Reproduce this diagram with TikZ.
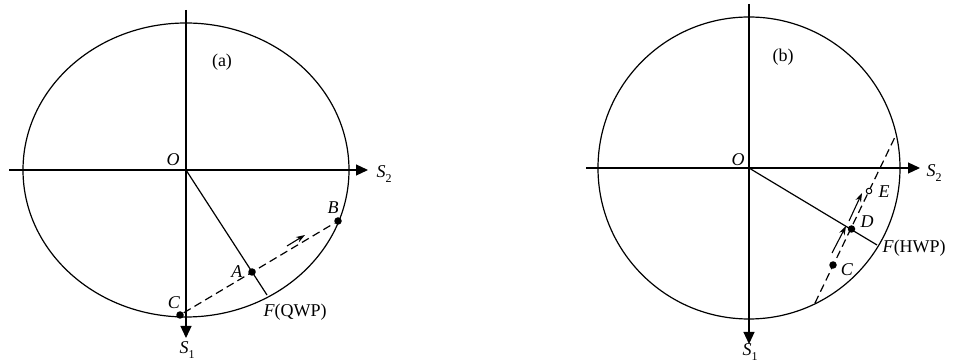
\documentclass[tikz,border=0pt]{standalone}
\usepackage{fontspec}
\setmainfont{Liberation Serif}
\usetikzlibrary{arrows.meta,calc}
\newcommand{\Sub}[2]{\textit{#1}\raisebox{-4.5pt}{\fontsize{12}{13}\selectfont #2}}
\begin{document}
\begin{tikzpicture}[x=1pt,y=-1pt,line width=1.2pt,
  font=\fontsize{18}{21}\selectfont,
  axis/.style={-{Triangle[length=12pt,width=11pt]}},
  dashline/.style={dash pattern=on 8pt off 4.5pt},
  dotf/.style={circle,fill,inner sep=0pt,minimum size=7.5pt},
  doto/.style={circle,draw,fill=white,inner sep=0pt,minimum size=5.5pt,line width=1pt},
  small/.style={-{Stealth[length=9pt,width=6pt]},line width=1.1pt},
  lbl/.style={inner sep=0pt}]
\useasboundingbox (0,0) rectangle (956,363);
% ---------- (a) ----------
\coordinate (Oa) at (186,170);
\draw (Oa) ellipse [x radius=163pt, y radius=147pt];
\coordinate (Xa0) at (9,170);
\coordinate (Xa1) at (368,170);
\coordinate (Ya0) at (186,10);
\coordinate (Ya1) at (186,338);
\draw[axis] (Xa0) -- (Xa1);
\draw[axis] (Ya0) -- (Ya1);
\coordinate (Fa) at (267,295);
\draw (Oa) -- (Fa);
\node[dotf] (A) at (252,272) {};
\node[dotf] (B) at (338,221) {};
\node[dotf] (Ca) at (180,315) {};
\draw[dashline] (Ca) -- (B);
\coordinate (aa0) at (287,246);
\coordinate (aa1) at (305,235);
\draw[small] (aa0) -- (aa1);
\node[lbl] (lOa) at (173,160) {\textit{O}};
\node[lbl] (la) at (222,62) {(a)};
\node[lbl] (lA) at (237,272) {\textit{A}};
\node[lbl] (lB) at (333,208) {\textit{B}};
\node[lbl] (lC) at (174,303) {\textit{C}};
\node[lbl,anchor=west] (lFa) at (263,312) {\textit{F}(QWP)};
\node[lbl] (lS2a) at (384,174) {\Sub{S}{2}};
\node[lbl] (lS1a) at (187,350) {\Sub{S}{1}};
% ---------- (b) ----------
\coordinate (Ob) at (749,168);
\draw (Ob) circle [radius=151pt];
\coordinate (Xb0) at (586,168);
\coordinate (Xb1) at (920,168);
\coordinate (Yb0) at (749,4);
\coordinate (Yb1) at (749,344);
\draw[axis] (Xb0) -- (Xb1);
\draw[axis] (Yb0) -- (Yb1);
\coordinate (Fb) at (877,245);
\draw (Ob) -- (Fb);
\coordinate (P1) at (815,303);
\coordinate (P2) at (895,137);
\draw[dashline] (P1) -- (P2);
\node[dotf] (D) at (851.5,229) {};
\node[dotf] (Cb) at (833,265) {};
\node[doto] (E) at (869,191) {};
\coordinate (ba0) at (832,253);
\coordinate (ba1) at (846,226);
\coordinate (bb0) at (849,221);
\coordinate (bb1) at (862,193);
\draw[small] (ba0) -- (ba1);
\draw[small] (bb0) -- (bb1);
\node[lbl] (lOb) at (738,160) {\textit{O}};
\node[lbl] (lb) at (783,57) {(b)};
\node[lbl] (lE) at (884,192) {\textit{E}};
\node[lbl] (lD) at (867,222) {\textit{D}};
\node[lbl] (lCb) at (847,270) {\textit{C}};
\node[lbl,anchor=west] (lFb) at (882,248) {\textit{F}(HWP)};
\node[lbl] (lS2b) at (934,173) {\Sub{S}{2}};
\node[lbl] (lS1b) at (750,352) {\Sub{S}{1}};
\end{tikzpicture}
\end{document}
